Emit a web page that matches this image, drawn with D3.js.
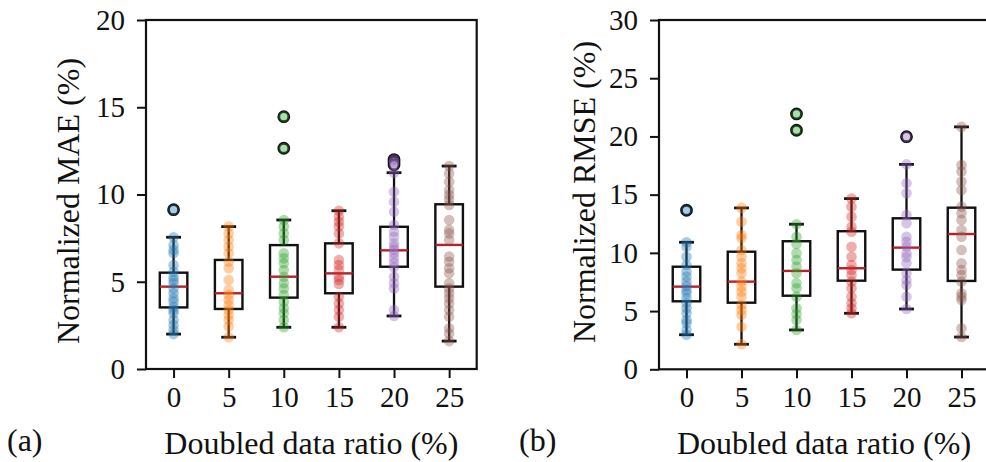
<!DOCTYPE html>
<html lang="en">
<head>
<meta charset="UTF-8">
<title>Doubled data ratio boxplots</title>
<style>
body { margin: 0; background: #fff; }
svg { display: block; font-family: "Liberation Serif", "Times New Roman", serif; }
.axis text { font-size: 29px; fill: #111; font-family: "Liberation Serif", "Times New Roman", serif; }
.axis path, .axis line { stroke: #111; stroke-width: 2px; }
.lbl { font-size: 32px; fill: #111; }
</style>
</head>
<body>
<svg id="chart" width="986" height="462"></svg>
<script src="https://d3js.org/d3.v7.min.js"></script>
<script>
// categories
const ratios = ["0", "5", "10", "15", "20", "25"];
const colors = ["#1f77b4", "#ff7f0e", "#2ca02c", "#d62728", "#9467bd", "#8c564b"];

// MAE box stats
const maeLo  = [2.0, 1.82, 2.39, 2.39, 3.04, 1.6];
const maeQ1  = [3.53, 3.44, 4.09, 4.34, 5.86, 4.72];
const maeMed = [4.72, 4.34, 5.29, 5.48, 6.8, 7.11];
const maeQ3  = [5.52, 6.25, 7.1, 7.2, 8.15, 9.44];
const maeHi  = [7.55, 8.16, 8.54, 9.07, 11.25, 11.63];
const maeFliers = [[9.13], [], [14.46, 12.65], [], [12.0, 11.85, 11.7], []];
const maePoints = [
  [7.55, 7.1, 6.82, 6.63, 5.96, 5.58, 5.29, 5.1, 4.91, 4.62, 4.34, 4.05, 3.86, 3.57, 3.38, 3.19, 2.81, 2.52, 2.23, 2.0, 9.13],
  [8.16, 7.77, 7.39, 7.01, 6.63, 6.15, 5.77, 5.1, 4.53, 4.24, 3.95, 3.67, 3.38, 3.09, 2.81, 2.43, 1.82],
  [8.54, 8.16, 7.77, 7.39, 6.63, 6.34, 6.06, 5.67, 5.29, 4.91, 4.62, 4.24, 3.86, 3.48, 3.19, 2.81, 2.39, 14.46, 12.65],
  [9.07, 8.73, 8.44, 8.16, 7.77, 7.2, 6.25, 5.96, 5.67, 5.29, 5.1, 4.87, 4.14, 3.76, 3.38, 3.0, 2.39],
  [11.25, 10.16, 9.59, 9.01, 8.25, 7.87, 7.58, 7.2, 7.01, 6.82, 6.63, 6.34, 6.09, 5.83, 5.29, 4.91, 4.62, 3.38, 3.04, 12.0, 11.85, 11.7],
  [11.63, 11.21, 10.73, 10.26, 9.97, 9.72, 9.4, 8.54, 7.97, 7.77, 7.39, 6.44, 6.15, 5.77, 5.48, 4.91, 4.62, 4.34, 4.05, 3.76, 3.38, 3.0, 2.33, 2.04, 1.6]
];

// RMSE box stats
const rmseLo  = [2.97, 2.15, 3.38, 4.81, 5.18, 2.77];
const rmseQ1  = [5.84, 5.72, 6.32, 7.61, 8.56, 7.59];
const rmseMed = [7.1, 7.53, 8.45, 8.68, 10.45, 11.62];
const rmseQ3  = [8.81, 10.1, 11.0, 11.86, 12.97, 13.88];
const rmseHi  = [10.91, 13.86, 12.46, 14.66, 17.6, 20.82];
const rmseFliers = [[13.66], [], [21.93, 20.53], [], [19.98], []];
const rmsePoints = [
  [10.91, 10.53, 9.67, 8.96, 8.39, 7.96, 7.53, 7.16, 6.81, 6.53, 6.1, 5.67, 5.24, 4.81, 4.24, 3.95, 3.38, 2.97, 13.66],
  [13.86, 12.68, 11.54, 11.25, 10.25, 9.67, 9.1, 8.68, 8.25, 7.53, 7.1, 6.67, 6.24, 5.52, 5.1, 4.66, 3.66, 2.15],
  [12.46, 11.39, 10.77, 9.97, 9.39, 8.82, 8.25, 7.39, 6.96, 6.24, 5.24, 4.75, 4.24, 3.38, 21.93, 20.53],
  [14.66, 13.97, 13.11, 12.25, 11.82, 10.53, 9.67, 8.96, 8.53, 8.1, 7.53, 6.96, 6.24, 5.67, 5.24, 4.81],
  [17.6, 15.98, 15.12, 13.26, 12.54, 11.39, 10.96, 10.53, 9.97, 9.62, 9.1, 8.25, 7.67, 7.24, 6.24, 5.18, 19.98],
  [20.82, 17.55, 16.98, 16.12, 15.4, 13.97, 13.4, 12.83, 11.97, 11.39, 10.25, 9.1, 8.53, 8.1, 7.53, 6.53, 6.24, 5.95, 3.52, 2.77]
];

const svg = d3.select("#chart");

function panel(opts) {
  const { left, right, top, bottom, ymax, yTicks, yLabel, tag, tagX, labelX, labelY,
          lo, q1, med, q3, hi, fliers, points } = opts;

  const x = d3.scalePoint().domain(ratios).range([left, right]).padding(0.5);
  const y = d3.scaleLinear().domain([0, ymax]).range([bottom, top]);
  const step = x.step();
  const boxW = step * 0.5;
  const capW = step * 0.27;

  const g = svg.append("g");

  // boxes
  const box = g.selectAll(".box").data(ratios).enter().append("g");
  box.append("line")
    .attr("x1", d => x(d)).attr("x2", d => x(d))
    .attr("y1", (d, i) => y(lo[i])).attr("y2", (d, i) => y(q1[i]))
    .attr("stroke", "#111").attr("stroke-width", 2.3);
  box.append("line")
    .attr("x1", d => x(d)).attr("x2", d => x(d))
    .attr("y1", (d, i) => y(q3[i])).attr("y2", (d, i) => y(hi[i]))
    .attr("stroke", "#111").attr("stroke-width", 2.3);
  box.append("line")
    .attr("x1", d => x(d) - capW / 2).attr("x2", d => x(d) + capW / 2)
    .attr("y1", (d, i) => y(lo[i])).attr("y2", (d, i) => y(lo[i]))
    .attr("stroke", "#111").attr("stroke-width", 2.8);
  box.append("line")
    .attr("x1", d => x(d) - capW / 2).attr("x2", d => x(d) + capW / 2)
    .attr("y1", (d, i) => y(hi[i])).attr("y2", (d, i) => y(hi[i]))
    .attr("stroke", "#111").attr("stroke-width", 2.8);
  box.append("rect")
    .attr("x", d => x(d) - boxW / 2).attr("width", boxW)
    .attr("y", (d, i) => y(q3[i])).attr("height", (d, i) => y(q1[i]) - y(q3[i]))
    .attr("fill", "none").attr("stroke", "#111").attr("stroke-width", 2.4);
  box.append("line")
    .attr("x1", d => x(d) - boxW / 2).attr("x2", d => x(d) + boxW / 2)
    .attr("y1", (d, i) => y(med[i])).attr("y2", (d, i) => y(med[i]))
    .attr("stroke", "#b5202a").attr("stroke-width", 2.4);

  // outliers
  ratios.forEach((r, i) => {
    g.selectAll(null).data(fliers[i]).enter().append("circle")
      .attr("cx", x(r)).attr("cy", d => y(d)).attr("r", 5)
      .attr("fill", "#fff").attr("stroke", "#111").attr("stroke-width", 2.8);
  });

  // points
  ratios.forEach((r, i) => {
    g.selectAll(null).data(points[i]).enter().append("circle")
      .attr("cx", x(r)).attr("cy", d => y(d)).attr("r", 5.3)
      .attr("fill", colors[i]).attr("fill-opacity", 0.38);
  });

  // axes
  g.append("g").attr("class", "axis")
    .attr("transform", `translate(0,${bottom})`)
    .call(d3.axisBottom(x).tickSize(9).tickPadding(8))
    .call(a => a.select(".domain").remove());
  g.append("g").attr("class", "axis")
    .attr("transform", `translate(${left},0)`)
    .call(d3.axisLeft(y).tickValues(yTicks).tickFormat(d3.format("d")).tickSize(9).tickPadding(12))
    .call(a => a.select(".domain").remove());

  g.append("rect")
    .attr("x", left).attr("y", top).attr("width", right - left).attr("height", bottom - top)
    .attr("fill", "none").attr("stroke", "#111").attr("stroke-width", 2.2);

  g.append("text").attr("class", "lbl")
    .attr("transform", `translate(${labelX},${labelY}) rotate(-90)`)
    .attr("text-anchor", "middle")
    .text(yLabel);
  g.append("text").attr("class", "lbl")
    .attr("x", (left + right) / 2).attr("y", 454)
    .attr("text-anchor", "middle")
    .text("Doubled data ratio (%)");
  g.append("text").attr("class", "lbl")
    .attr("x", tagX).attr("y", 451)
    .text(tag);
}

panel({
  left: 146, right: 476.7, top: 20, bottom: 369, ymax: 20,
  yTicks: [0, 5, 10, 15, 20], yLabel: "Normalized MAE (%)", tag: "(a)", tagX: 7, labelX: 79, labelY: 201,
  lo: maeLo, q1: maeQ1, med: maeMed, q3: maeQ3, hi: maeHi, fliers: maeFliers, points: maePoints
});
panel({
  left: 659, right: 989, top: 20, bottom: 369.3, ymax: 30,
  yTicks: [0, 5, 10, 15, 20, 25, 30], yLabel: "Normalized RMSE (%)", tag: "(b)", tagX: 519, labelX: 595, labelY: 192,
  lo: rmseLo, q1: rmseQ1, med: rmseMed, q3: rmseQ3, hi: rmseHi, fliers: rmseFliers, points: rmsePoints
});
</script>
</body>
</html>
